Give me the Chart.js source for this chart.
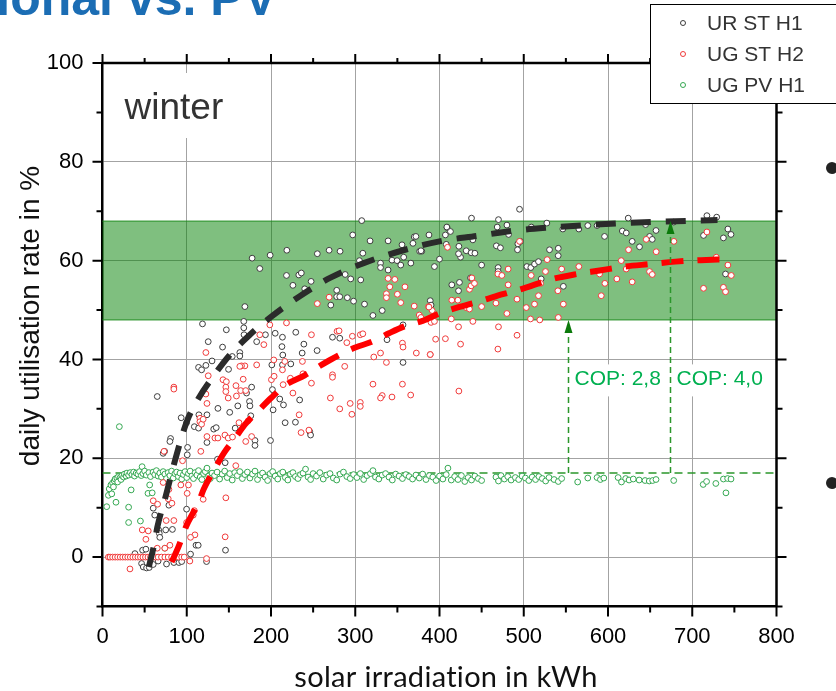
<!DOCTYPE html>
<html>
<head>
<meta charset="utf-8">
<script src="https://cdn.jsdelivr.net/npm/chart.js@4.4.1/dist/chart.umd.min.js"></script>
<style>
  html, body { margin: 0; padding: 0; background: #fff; overflow: hidden; }
  #wrap { position: relative; width: 836px; height: 691px; }
</style>
</head>
<body>
<div id="wrap"><canvas id="chart"></canvas></div>
<script>
// ---- data ----
const seriesNames = ['UR ST H1', 'UG ST H2', 'UG PV H1'];

const xTicks = [0, 100, 200, 300, 400, 500, 600, 700, 800];
const xMinorTicks = [50, 150, 250, 350, 450, 550, 650, 750];
const yTicks = [0, 20, 40, 60, 80, 100];
const yMinorTicks = [-10, 10, 30, 50, 70, 90];

// target band and PV level
const bandRange = [48, 68];
const pvLevelX = [0, 800];
const pvLevelY = [17, 17];

// COP markers
const copX = [552, 674];
const copTop = [48, 68];
const copLabels = ['COP: 2,8', 'COP: 4,0'];

// UR ST H1 (black)
const urST_H1 = [
  [177.6,60.5],[186.7,58.4],[199,61.1],[218.8,62.1],[169,50.7],[255,61.4],[269,62.1],[282,61.9],
  [218.4,57],[226,55],[233,57.1],[236,57.5],[247.6,55.8],[240,54.3],[278,54],[278,52.7],
  [281.6,52.7],[290.6,52.5],[298,51.8],[311,51.2],[271,51],[294.6,56.3],[288,57.2],[306.5,56.1],
  [305,60],[309,61.5],[307.7,68.1],[297,65.2],[317.6,64],[339,64],[330,59.5],[330,58.6],
  [339,58.1],[343.6,60.1],[349.6,60],[355.5,63.2],[368.5,63.5],[370,64.8],[372,64.9],[376.4,61.9],
  [379,61.9],[357.5,60.7],[354,59.1],[366,59.5],[387.5,65.2],[394,58.8],[400,60.3],[409,66.7],
  [407,65.2],[408,63.3],
  [118.7,47.2],[125.5,43.6],[147,46],[167.7,47.7],[167.7,46.4],[168,45],[142.5,42.5],[163,41.4],
  [163,40.7],[154,40.6],[114,38.4],[117.6,37.9],[122.7,38.8],[130,39.7],[149.6,38],[65,32.5],
  [93.4,28.2],[99.8,27.2],[109,26.4],[114,26.1],[114.4,28.8],[124,28.8],[124,23.2],[132,25.9],
  [135,26.2],[137,30.1],[151,29.3],[157.5,26.1],[160.6,30.6],[171,33.2],[174.5,31.5],[175,30.6],
  [176,28.6],[177,34.4],[181,23.6],[181,22.6],[183,43.6],[193.4,45],[205,45.3],[201,38.9],
  [213.6,44.5],[213,42.6],[214,40.9],[213.6,38.9],[223.5,39.1],[229.4,45.5],[239,43.1],[237,41.3],
  [254.7,41.8],[201.7,33.9],[202.5,29.8],[210.4,32],[214.8,30.8],[216.8,27.2],[234,31.8],[246,25.4],
  [247,24.7],[229,27.3],[199.4,23.6],[273,44.5],[281.6,44.3],[337.7,44],[356.7,39.4],[356.7,47],
  [321,48.9],[332,49.9],[80.8,24],[80,23.4],[72,21],[73.7,21.4],[101,22.2],[100.6,20.7],
  [60.2,9.9],[62,8.5],[66.6,5.5],[67.4,4.8],[68,4],[75,5.5],[83,5.6],[99.8,9.7],
  [104.5,0.6],[111,2.4],[113.6,2.4],[123.5,-0.9],[146,1.4],[145.6,19.1],[136.5,19.8],[78.8,10.5],
  [38.5,0.7],[47.6,1.4],[51.5,1.6],[46.4,-1.3],[48.4,-2],[52.3,-2.2],[55.5,-2.1],[60.2,-1.5],
  [66,-0.8],[76,-1.4],[84.7,-1.1],[90.7,-1.1],[94,-0.9],
  [495,70.4],[438,68.6],[470,68.3],[408.7,66.8],[413,65.9],[378,62],[423,62.9],[425,60.7],
  [422.6,61.4],[431.7,62],[437.6,61.6],[442,61.5],[439.6,64.2],[450,59.1],[436.8,56.5],[414.6,55.1],
  [422.6,53.9],[423.7,55.6],[389,51.9],[390,51],[468.5,66.8],[467.5,63],[472.3,62.6],[469.6,58.6],
  [469.6,57.8],[480,67.2],[482,65.3],[493,63.4],[492.6,62.2],[496,63.9],[509,66.8],[503.7,58.8],
  [508.4,58.6],[512.8,59.3],[517.5,59.8],[520.7,56.3],[527.4,67.6],[530.6,62.2],[541,62.5],[540.9,61],
  [546.4,66.4],[547,54.8],[565.4,66.4],[576,67.1],[587,67.1],[595.9,64.9],[624,68.6],[617,66],
  [621.7,65.6],[628.7,63.9],[637.4,62.8],[644.6,67.3],[649.4,64.9],[652.5,64.3],[657,66.1],[678,67.8],
  [717.4,69.1],[729,68.8],[713.4,65.1],[737,64.6],[742.3,66.4],[746,65.3],[739.5,57.3]
];

// UG ST H2 (red)
const ugST_H2 = [
  [122.7,41.4],[125.5,36.7],[84.7,34.4],[84.7,34],[143,35.9],[147,35.5],[146.4,34.4],[146.4,33.5],
  [149.2,32.2],[158.4,34.7],[159,32.6],[164,33.7],[170,33.7],[167,36],[169,38.7],[165,38.7],
  [163,38.6],[183,38.9],[186.7,45],[191.5,43],[198.6,47],[203.3,39.9],[200.5,35.9],[203.7,36.6],
  [216.4,39.6],[213.6,37.9],[214.4,34.9],[218.4,47.4],[223,36.2],[226,33.2],[233.4,28.8],[235.7,25.2],
  [245,25.7],[248,35.2],[238,37.1],[237.3,39.6],[248,45],[255,51.3],[278.4,45.7],[280.8,45.8],
  [290,43.4],[296.6,44.7],[306,45],[309,45.2],[287.5,38.6],[273,36.9],[273,36.4],[270.5,32.2],
  [281.6,30],[294,31.1],[306,31.3],[306,30.5],[296,28.9],[321,35],[322,40.5],[330,41.3],
  [337,39.4],[332,32.7],[330,32.2],[343.6,32.4],[356,35],[356,43.3],[356.7,42.5],[365.8,32.8],
  [372.5,41.3],[389,41],[395.4,44.1],[115.6,28.1],[115.6,27.4],[117.6,26.9],[119.5,27.9],[124,24.4],
  [122.7,33],[124,31.1],[133.4,24.1],[137,24.1],[145.3,24.7],[149.2,24.1],[154.3,24.3],[162,27.2],
  [170,23.4],[173,27.6],[177,24.4],[158.2,18.5],[146.4,12],[145.6,4.1],[123.5,-0.3],[116.7,21.4],
  [95,19.5],[100.5,12.9],[93,14.6],[102,14.6],[99.8,7],[109.7,4.5],[104.5,4],[103.7,-0.8],
  [109,9.4],[119.5,11.7],[107.7,8.5],[73,21.4],[72,15.1],[78.8,13.7],[60.2,11.4],[65.4,10.7],
  [78,11.8],[82.4,10.9],[84.7,7.4],[75.6,7.4],[47.2,5.5],[54.3,5.3],[51.5,3.6],[65,1.8],
  [74,1.8],[80,2.4],[32.6,-2.4],
  [7,0],[9,0],[12,0],[15,0],[18,0],[21,0],[24,0],[27,0],[30,0],[33,0],[36,0],[39,0],
  [42,0],[45,0],[48,0],[51,0],[54,0],[57,0],[60,0],[63,0],[66,0],[70,0],[74,0],[78,0],
  [82,0],[86,0],[90,0],[94,0],[97,0],
  [409.5,62.7],[376,49],[378,48.5],[387,50.7],[391.3,49.9],[390,47.5],[394,47.7],[389,41],
  [407,44.2],[414,48.2],[414.6,52],[421.8,52],[422.6,46.6],[425,43.1],[423,33.6],[431.6,50.5],
  [435.6,50.2],[435.6,54.2],[438.4,56.5],[437.6,54.9],[441.5,55.4],[439.6,47.7],[450,50.7],[467,51.4],
  [469.3,57.3],[474,57],[481.5,58.3],[480,49.3],[470,46.6],[469.3,42.1],[492,44.9],[492,52.2],
  [495,63.9],[481.5,55.1],[503,50.5],[512.8,51.2],[517.5,52.9],[520,55.4],[508.8,57],[525.8,57.8],
  [527.8,60.2],[508,48.2],[519,48],[540.5,53.9],[541,48.5],[547,51.2],[545,58.3],[565.4,58.8],
  [592,52.9],[596.3,55.4],[590,57.3],[610.5,56.3],[615.7,60],[624.4,62.2],[621.6,58.3],[628.7,55.7],
  [649.3,57.8],[652.5,57.2],[645.4,64.3],[657.2,61.8],[678.2,63.9],[717.4,65.8],[713.4,54.4],[728.5,60.7],
  [737,54.6],[739.5,53.7],[742.3,59.1],[746.3,57],
  [339,56.4],[347,56.2],[359,54.7],[341,54.7],[337,53.3],[337,52.5],[350,53.2],[354,51.5],
  [370,50.8],[387.5,50.6],[269,52.6]
];

// UG PV H1 (green)
const ugPV_H1 = [
  [5,10.2],[7,12.5],[8,13.8],[10,14.6],[11,12.8],[12,15.0],[13,14.2],[14,15.4],[15,15.8],[16,11.1],
  [17,16.0],[18,15.2],[19,16.3],[20,26.4],[21,16.1],[22,15.7],[23,16.5],[25,16.2],[26,16.8],[28,16.4],
  [29,17.0],[31,16.6],[31,10.1],[31,7.0],[33,17.1],[34,13.6],[35,16.7],[37,17.2],[38,16.4],[40,17.0],
  [42,16.8],[44,17.3],[45,7.3],[46,16.5],[47,18.3],[48,16.9],[50,17.4],[52,16.6],[54,12.9],[55,17.1],
  [56,14.6],[57,16.3],[59,13.0],[60,17.2],[62,16.7],[64,17.5],[66,16.4],[68,17.0],[70,16.2],[72,17.3],
  [74,16.8],[74,1.8],[76,15.9],[78,17.1],[80,16.5],[82,17.4],[84,16.0],[86,16.9],[88,17.2],[90,16.3],
  [92,17.0],[94,15.8],[96,16.7],[98,17.3],[100,16.1],[102,16.9],[104,17.4],[106,16.4],[108,15.9],[110,17.1],
  [112,16.6],[114,17.5],[116,16.2],[118,15.7],[120,16.9],[122,17.3],[124,18.0],[126,16.4],[128,15.9],[130,17.0],
  [133,16.5],[136,17.2],[139,15.8],[142,16.8],[145,17.4],[148,16.1],[151,16.9],[154,15.6],[157,17.1],[160,16.5],
  [163,17.3],[166,15.9],[169,16.7],[172,17.2],[175,16.0],[178,16.8],[181,17.4],[184,15.7],[187,16.6],[190,17.0],
  [193,16.2],[196,15.5],[199,16.9],[202,17.3],[205,16.4],[208,15.8],[211,16.9],[214,17.2],[217,16.1],[220,15.6],
  [223,16.8],[226,17.1],[229,16.3],[232,15.9],[235,16.7],[238,17.0],[241,17.8],[244,16.2],[247,15.7],[250,16.9],
  [254,16.4],[258,17.1],[262,15.8],[266,16.6],[270,16.9],[274,16.0],[278,15.6],[282,16.8],[286,17.2],[290,16.3],
  [294,15.9],[298,16.7],[302,16.1],[306,16.9],[310,15.7],[314,16.5],[318,16.9],[321,17.5],[324,16.2],[328,15.8],
  [332,16.6],[336,16.9],[340,16.2],[344,15.6],[348,16.8],[352,16.4],[356,15.9],[360,16.7],[364,16.3],[368,15.8],
  [372,16.6],[376,16.0],[380,16.8],[384,15.7],[388,16.5],[392,16.2],[396,15.5],[400,16.4],[404,15.8],[408,16.7],
  [410,18.0],[414,15.6],[418,16.3],[422,15.7],[426,16.5],[430,15.3],[434,16.1],[438,15.6],[442,16.4],[446,15.9],
  [450,15.5],[467,16.2],[470,15.4],[473,16.5],[477,15.8],[481,16.3],[485,15.6],[490,16.1],[494,15.7],[498,16.4],
  [502,16.0],[506,15.5],[510,16.2],[514,15.7],[518,16.3],[522,15.9],[526,15.4],[530,16.1],[536,15.7],[541,15.3],
  [545,15.9],[564,15.2],[576,16.0],[587,16.1],[591,15.7],[595,16.0],[612,16.1],[616,15.2],[621,15.9],[625,15.6],
  [630,15.8],[637,15.6],[644,15.5],[649,15.4],[653,15.5],[657,15.7],[678,15.5],[713,14.7],[717,15.3],[728,14.9],
  [737,15.8],[740,13.0],[742,15.9],[746,15.8]
];

// fitted trend curves (dashed)
const urFitX = [55, 62, 65, 75, 85, 100, 115, 130, 150, 175, 200, 235, 270, 310, 355, 400, 445, 490, 530, 575, 620, 665, 705, 730];
const urFitY = [-2, 3.1, 6, 12.3, 18.9, 27.4, 32.4, 36.2, 40.7, 45, 48.6, 52.9, 56.5, 59.5, 62, 63.9, 65, 66.1, 66.7, 67.2, 67.6, 67.9, 68.1, 68.2];
const ugFitX = [82, 90, 100, 107, 114, 120, 132, 145, 157, 170, 186, 200, 218, 240, 260, 280, 300, 320, 340, 360, 380, 400, 425, 450, 475, 500, 530, 560, 590, 620, 650, 680, 710, 740];
const ugFitY = [-1, 2, 6.5, 8.8, 11, 13.7, 17.5, 21.3, 24, 27, 29.8, 32.2, 34.9, 36.8, 38.9, 40.8, 42.4, 43.6, 45.3, 46.8, 47.8, 49.3, 50.7, 51.9, 53.2, 54.4, 56.1, 57.2, 58, 58.8, 59.3, 59.8, 60.1, 60.3];

const toPts = (xs, ys) => xs.map((v, i) => ({ x: v, y: ys[i] }));
const pairs = arr => arr.map(p => ({ x: p[0], y: p[1] }));

const FONT = "'Liberation Sans', Arial, sans-serif";
const pointColors = ['#3d3d3d', '#f03a3a', '#35a852'];

const decor = {
  id: 'decor',
  beforeDatasetsDraw(chart) {
    const { ctx, chartArea: a, scales: { x, y } } = chart;
    ctx.save();
    // target band
    const yTop = y.getPixelForValue(bandRange[1]);
    const yBot = y.getPixelForValue(bandRange[0]);
    ctx.fillStyle = 'rgba(0,128,0,0.5)';
    ctx.fillRect(a.left, yTop, a.right - a.left, yBot - yTop);
    ctx.strokeStyle = '#1e8c1e';
    ctx.lineWidth = 1;
    ctx.beginPath();
    ctx.moveTo(a.left, yTop); ctx.lineTo(a.right, yTop);
    ctx.moveTo(a.left, yBot); ctx.lineTo(a.right, yBot);
    ctx.stroke();
    // white boxes behind the labels
    ctx.fillStyle = '#fff';
    ctx.fillRect(a.left + 4, a.top + 10, 140, 65);
    copX.forEach(v => {
      const x0 = x.getPixelForValue(v);
      ctx.fillRect(x0, y.getPixelForValue(39), 92, 32);
    });
    ctx.restore();
  },
  afterDatasetsDraw(chart) {
    const { ctx, chartArea: a, scales: { x, y } } = chart;
    ctx.save();
    // COP arrows
    copX.forEach((v, i) => {
      const xp = Math.round(x.getPixelForValue(v)) + 0.5;
      const yTip = y.getPixelForValue(copTop[i]);
      const yBase = y.getPixelForValue(pvLevelY[0]);
      ctx.strokeStyle = '#2b962b';
      ctx.lineWidth = 1.5;
      ctx.setLineDash([6, 4]);
      ctx.beginPath();
      ctx.moveTo(xp, yBase);
      ctx.lineTo(xp, yTip + 10);
      ctx.stroke();
      ctx.setLineDash([]);
      ctx.fillStyle = '#0b7a0b';
      ctx.beginPath();
      ctx.moveTo(xp, yTip);
      ctx.lineTo(xp - 4, yTip + 13);
      ctx.lineTo(xp + 4, yTip + 13);
      ctx.closePath();
      ctx.fill();
      ctx.fillStyle = '#00b050';
      ctx.font = '21px ' + FONT;
      ctx.textBaseline = 'middle';
      ctx.textAlign = 'left';
      ctx.fillText(copLabels[i], xp + 6, y.getPixelForValue(36));
    });
    // season label
    ctx.fillStyle = '#333';
    ctx.font = '37px ' + FONT;
    ctx.textBaseline = 'alphabetic';
    ctx.fillText('winter', a.left + 22, a.top + 56);
    ctx.restore();
  },
  afterDraw(chart) {
    const { ctx, chartArea: a, scales: { x, y } } = chart;
    ctx.save();
    // frame on top and right
    ctx.strokeStyle = '#000';
    ctx.lineWidth = 2.5;
    ctx.beginPath();
    ctx.moveTo(a.left, a.top); ctx.lineTo(a.right, a.top); ctx.lineTo(a.right, a.bottom);
    ctx.stroke();
    // tick marks on all four sides
    ctx.lineWidth = 2;
    ctx.beginPath();
    const tx = (vals, len) => vals.forEach(v => {
      const p = x.getPixelForValue(v);
      ctx.moveTo(p, a.bottom); ctx.lineTo(p, a.bottom + len);
      ctx.moveTo(p, a.top); ctx.lineTo(p, a.top - len + 1);
    });
    const ty = (vals, len) => vals.forEach(v => {
      const p = y.getPixelForValue(v);
      ctx.moveTo(a.left, p); ctx.lineTo(a.left - len, p);
      ctx.moveTo(a.right, p); ctx.lineTo(a.right + len, p);
    });
    tx(xTicks, 10); tx(xMinorTicks, 6);
    ty(yTicks, 10); ty(yMinorTicks, 6);
    ctx.stroke();

    // axis titles
    ctx.fillStyle = '#111';
    ctx.font = '28px ' + FONT;
    ctx.textAlign = 'center';
    ctx.textBaseline = 'middle';
    ctx.save();
    ctx.translate(31, 316);
    ctx.rotate(-Math.PI / 2);
    ctx.fillText('daily utilisation rate in %', 0, 0);
    ctx.restore();
    ctx.font = "29px Lato, 'Open Sans', sans-serif";
    ctx.letterSpacing = '0.3px';
    ctx.textBaseline = 'alphabetic';
    ctx.fillText('solar irradiation in kWh', 446, 687);
    ctx.letterSpacing = '0px';

    // legend
    ctx.fillStyle = '#fff';
    ctx.fillRect(650.5, 4.5, 200, 99);
    ctx.strokeStyle = '#000';
    ctx.lineWidth = 1;
    ctx.strokeRect(650.5, 4.5, 200, 99);
    const rows = [23, 54, 85];
    seriesNames.forEach((name, i) => {
      ctx.strokeStyle = pointColors[i];
      ctx.fillStyle = '#fff';
      ctx.beginPath();
      ctx.arc(683, rows[i], 2.5, 0, Math.PI * 2);
      ctx.fill();
      ctx.stroke();
      ctx.fillStyle = '#333';
      ctx.font = '21px ' + FONT;
      ctx.textAlign = 'left';
      ctx.textBaseline = 'middle';
      ctx.fillText(name, 707, rows[i] + 1);
    });

    // slide remnants: headline and bullets
    ctx.fillStyle = '#1b6db4';
    ctx.font = 'bold 50px ' + FONT;
    ctx.textAlign = 'right';
    ctx.textBaseline = 'alphabetic';
    ctx.fillText('Conventional vs. PV', 277, 15);
    ctx.fillStyle = '#222';
    [168, 483].forEach(yy => {
      ctx.beginPath();
      ctx.arc(832, yy, 6, 0, Math.PI * 2);
      ctx.fill();
    });
    ctx.restore();
  }
};

const pointSet = (label, data, color, order) => ({
  label, data: pairs(data), order,
  showLine: false,
  pointRadius: 2.9, pointBorderWidth: 1,
  pointBackgroundColor: '#fff', pointBorderColor: color, borderColor: color
});

new Chart(document.getElementById('chart'), {
  type: 'scatter',
  data: {
    datasets: [
      {
        label: 'fit UR ST H1', data: toPts(urFitX, urFitY), order: 0,
        showLine: true, borderColor: '#2b2b2b', borderWidth: 6, borderDash: [20, 15],
        pointRadius: 0, cubicInterpolationMode: 'monotone'
      },
      {
        label: 'fit UG ST H2', data: toPts(ugFitX, ugFitY), order: 0,
        showLine: true, borderColor: '#ff0000', borderWidth: 6, borderDash: [22, 14],
        pointRadius: 0, cubicInterpolationMode: 'monotone'
      },
      pointSet(seriesNames[1], ugST_H2, pointColors[1], 1),
      pointSet(seriesNames[0], urST_H1, pointColors[0], 2),
      pointSet(seriesNames[2], ugPV_H1, pointColors[2], 3),
      {
        label: 'PV level', data: toPts(pvLevelX, pvLevelY), order: 4,
        showLine: true, borderColor: '#2b962b', borderWidth: 1.5, borderDash: [8, 5], pointRadius: 0
      }
    ]
  },
  options: {
    responsive: true,
    maintainAspectRatio: false,
    animation: false,
    events: [],
    layout: { padding: { top: 63, right: 59.5, bottom: 0, left: 0 } },
    plugins: { legend: { display: false }, tooltip: { enabled: false } },
    scales: {
      x: {
        type: 'linear', min: 0, max: 800,
        afterBuildTicks: s => { s.ticks = xTicks.map(v => ({ value: v })); },
        afterFit: s => { s.height = 84.5; },
        ticks: { font: { family: FONT, size: 22 }, color: '#000', padding: 17, maxRotation: 0, autoSkip: false },
        grid: { color: '#a3a3a3', lineWidth: 1, drawTicks: false },
        border: { color: '#000', width: 2.5 }
      },
      y: {
        type: 'linear', min: -10, max: 100,
        afterBuildTicks: s => { s.ticks = yTicks.map(v => ({ value: v })); },
        afterFit: s => { s.width = 102.5; },
        ticks: { font: { family: FONT, size: 22 }, color: '#000', padding: 19, autoSkip: false },
        grid: { color: '#a3a3a3', lineWidth: 1, drawTicks: false },
        border: { color: '#000', width: 2.5 }
      }
    }
  },
  plugins: [decor]
});
</script>
</body>
</html>
